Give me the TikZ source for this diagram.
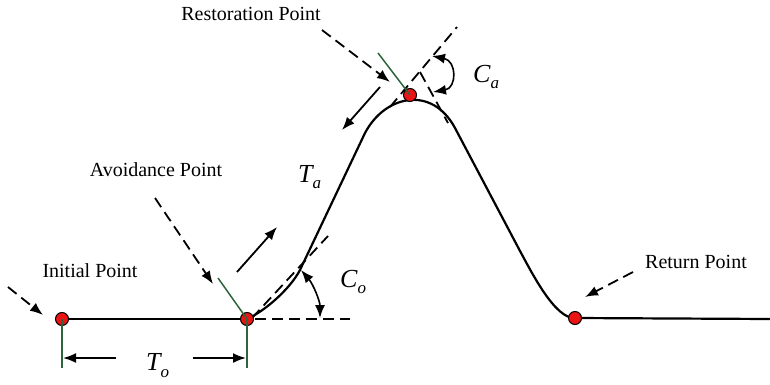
\documentclass[tikz,border=0pt]{standalone}
\usepackage{fontspec}
\setmainfont{Liberation Serif}
\usetikzlibrary{arrows.meta}
\definecolor{dotred}{RGB}{235,20,20}
\definecolor{guidegreen}{RGB}{45,100,60}
\begin{document}
\begin{tikzpicture}[x=1pt,y=-1pt,
  path/.style={line width=2.2pt,line join=round},
  dotpt/.style={circle,draw=black,fill=dotred,line width=1pt,minimum size=13pt,inner sep=0pt},
  guide/.style={draw=guidegreen,line width=1.5pt},
  dsh/.style={line width=1.8pt,dash pattern=on 11pt off 6pt},
  tip/.style={-{Latex[length=13pt,width=10pt]}},
  dtip/.style={{Latex[length=13pt,width=10pt]}-{Latex[length=13pt,width=10pt]}},
  lbl/.style={font=\fontsize{20}{24}\selectfont,anchor=base,inner sep=0pt},
  mlbl/.style={font=\fontsize{26}{30}\selectfont\itshape,anchor=base west,inner sep=0pt},
]
\useasboundingbox (0,0) rectangle (770,385);
% points
\coordinate (ini) at (62,319);
\coordinate (avo) at (247,319);
\coordinate (res) at (410,95);
\coordinate (ret) at (575,318);
\coordinate (endr) at (770,319);
% path
\draw[path] (ini) -- (avo);
\draw[path] (avo) .. controls (265,311) and (290,289) .. (300,270) -- (365,133)
  .. controls (385,95) and (432,85) .. (455,128) -- (520,251)
  .. controls (532,273) and (555,319) .. (ret) -- (endr);
% dashed guide lines
\coordinate (coh) at (350,319);
\coordinate (cot1) at (252,318);
\coordinate (cot2) at (328,236);
\draw[dsh] (avo) ++(8,0) -- (coh);
\draw[dsh] (cot1) -- (cot2);
\coordinate (caA1) at (390,107);
\coordinate (caA2) at (457,27);
\coordinate (caB1) at (420,72);
\coordinate (caB2) at (448,123);
\draw[dsh] (caA1) -- (caA2);
\draw[dsh] (caB1) -- (caB2);
% angle arcs
\coordinate (co1) at (320,318);
\coordinate (co2) at (301,270);
\draw[line width=1.6pt,dtip] (co1) .. controls (320,301) and (313,284) .. (co2);
\coordinate (ca1) at (432,56);
\coordinate (ca2) at (433,92);
\draw[line width=1.6pt,dtip] (ca1) .. controls (457,61) and (457,88) .. (ca2);
% dots
\node[dotpt] (nini) at (ini) {};
\node[dotpt] (navo) at (avo) {};
\node[dotpt] (nres) at (res) {};
\node[dotpt] (nret) at (ret) {};
% green guides
\coordinate (g1) at (62,368);
\coordinate (g2) at (247,368);
\coordinate (g3) at (218,278);
\coordinate (g4) at (378,53);
\draw[guide] (nini.center) -- (g1);
\draw[guide] (navo.center) -- (g2);
\draw[guide] (navo.center) -- (g3);
\draw[guide] (nres.center) -- (g4);
% T_o dimension arrows
\coordinate (tol0) at (116,358);
\coordinate (tol1) at (63,358);
\coordinate (tor0) at (193,358);
\coordinate (tor1) at (246,358);
\draw[line width=1.8pt,tip] (tol0) -- (tol1);
\draw[line width=1.8pt,tip] (tor0) -- (tor1);
% motion arrows
\coordinate (m1a) at (237,272);
\coordinate (m1b) at (277,227);
\coordinate (m2a) at (380,87);
\coordinate (m2b) at (342,130);
\draw[line width=1.8pt,tip] (m1a) -- (m1b);
\draw[line width=1.8pt,tip] (m2a) -- (m2b);
% labels
\node[lbl] (lini) at (90,277) {Initial Point};
\node[lbl] (lavo) at (156,176) {Avoidance Point};
\node[lbl] (lres) at (251,21) {Restoration Point};
\node[lbl] (lret) at (696,268) {Return Point};
\node[mlbl] (lto) at (146,370) {T\raisebox{-7pt}{\fontsize{17}{17}\selectfont o}};
\node[mlbl] (lta) at (298,182) {T\raisebox{-6pt}{\fontsize{17}{17}\selectfont a}};
\node[mlbl] (lco) at (340,287) {C\raisebox{-6pt}{\fontsize{17}{17}\selectfont o}};
\node[mlbl] (lca) at (473,83) {C\raisebox{-6pt}{\fontsize{17}{17}\selectfont a}};
% pointer arrows (dashed)
\coordinate (p1) at (8,287);
\coordinate (p1t) at (43,315);
\coordinate (p2) at (155,198);
\coordinate (p2t) at (213,284);
\coordinate (p3) at (322,30);
\coordinate (p3t) at (390,82);
\coordinate (p4) at (633,272);
\coordinate (p4t) at (585,297);
\draw[dsh,tip] (p1) -- (p1t);
\draw[dsh,tip] (p2) -- (p2t);
\draw[dsh,tip] (p3) -- (p3t);
\draw[dsh,tip] (p4) -- (p4t);
\end{tikzpicture}
\end{document}
